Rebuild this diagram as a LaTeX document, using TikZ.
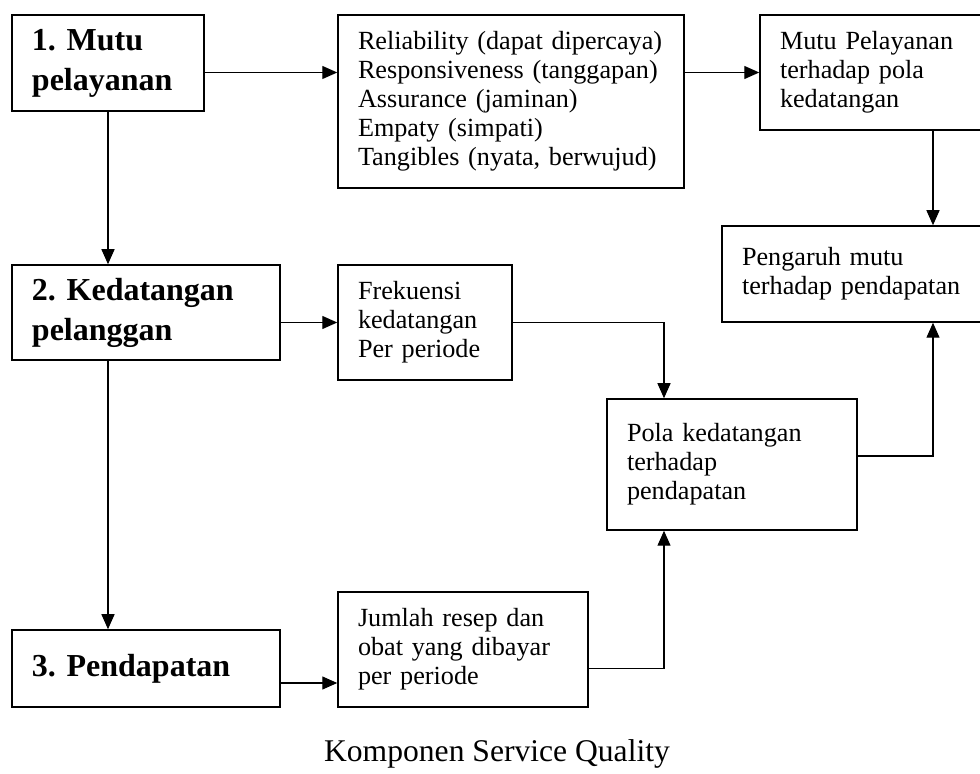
\documentclass[tikz,border=0pt]{standalone}
\usepackage{fontspec}
\setmainfont{Liberation Serif}
\usetikzlibrary{arrows.meta}
\frenchspacing

\tikzset{
  kotak/.style = {rectangle, draw = black, line width = 0.75pt,
      inner xsep = 10pt, inner ysep = 0pt, align = left,
      font = \fontsize{13.1}{14.5}\selectfont},
  kotakutama/.style = {kotak, font = \fontsize{16}{20}\selectfont\bfseries},
  panah/.style = {line width = 0.65pt, -{Triangle[length=7.5pt, width=6.5pt]}},
}

\begin{document}
\begin{tikzpicture}[x=0.5pt, y=-0.5pt]
\useasboundingbox (0,0) rectangle (980,774);
\clip (0,0) rectangle (980,774);

% left column
  \node[kotakutama,
      minimum width = 96pt,
      minimum height = 48pt,
      text width = 76pt] (mutu) at (108,63) {1. Mutu\\pelayanan};

  \node[kotakutama,
      minimum width = 134pt,
      minimum height = 47.5pt,
      text width = 114pt] (datang) at (146,312.5) {2. Kedatangan\\pelanggan};

  \node[kotakutama,
      minimum width = 134pt,
      minimum height = 38.5pt,
      text width = 114pt] (dapat) at (146,668.5) {3. Pendapatan};

% middle column
  \node[kotak,
      minimum width = 173pt,
      minimum height = 86.5pt,
      text width = 153pt] (dimensi) at (511,101.5)
      {Reliability (dapat dipercaya)\\Responsiveness (tanggapan)\\Assurance (jaminan)\\Empaty (simpati)\\Tangibles (nyata, berwujud)};

  \node[kotak,
      minimum width = 87pt,
      minimum height = 57.5pt,
      text width = 67pt] (frek) at (425,322.5) {Frekuensi\\kedatangan\\Per periode};

  \node[kotak,
      minimum width = 125pt,
      minimum height = 57.5pt,
      text width = 105pt] (jumlah) at (463,649.5) {Jumlah resep dan\\obat yang dibayar\\per periode};

  \node[kotak,
      minimum width = 125pt,
      minimum height = 65.5pt,
      text width = 105pt] (pola) at (732,464.5) {Pola kedatangan\\terhadap\\pendapatan\\[6pt]};

% right column
  \node[kotak,
      minimum width = 115pt,
      minimum height = 57.5pt,
      text width = 95pt] (mutupola) at (875,72.5) {Mutu Pelayanan\\terhadap pola\\kedatangan};

  \node[kotak,
      minimum width = 134pt,
      minimum height = 48pt,
      text width = 114pt] (pengaruh) at (856,274) {Pengaruh mutu\\terhadap pendapatan\\[4pt]};

\node (judul) at (497,754) {\fontsize{15.8}{18}\selectfont Komponen Service Quality};

% connectors
\coordinate (jalur) at (664,0);
\coordinate (kanan) at (933,0);

\draw[panah] (mutu.east |- mutupola.west) -- (dimensi.west |- mutupola.west);
\draw[panah] (dimensi.east |- mutupola.west) -- (mutupola.west);
\draw[panah] (mutu.south) -- (datang.north -| mutu.south);
\draw[panah] (datang.south -| mutu.south) -- (dapat.north -| mutu.south);
\draw[panah] (datang.east |- frek.west) -- (frek.west);
\draw[panah] ([yshift=-7.25pt]dapat.east) -- ([yshift=-7.25pt]jumlah.west |- dapat.east);
\draw[panah] (frek.east) -| (jalur |- pola.north);
\draw[panah] (jumlah.east |- dapat.east) -| (jalur |- pola.south);
\draw[panah] (mutupola.south -| kanan) -- (pengaruh.north -| kanan);
\draw[panah] ([yshift=4.25pt]pola.east) -| (kanan |- pengaruh.south);

\end{tikzpicture}
\end{document}
